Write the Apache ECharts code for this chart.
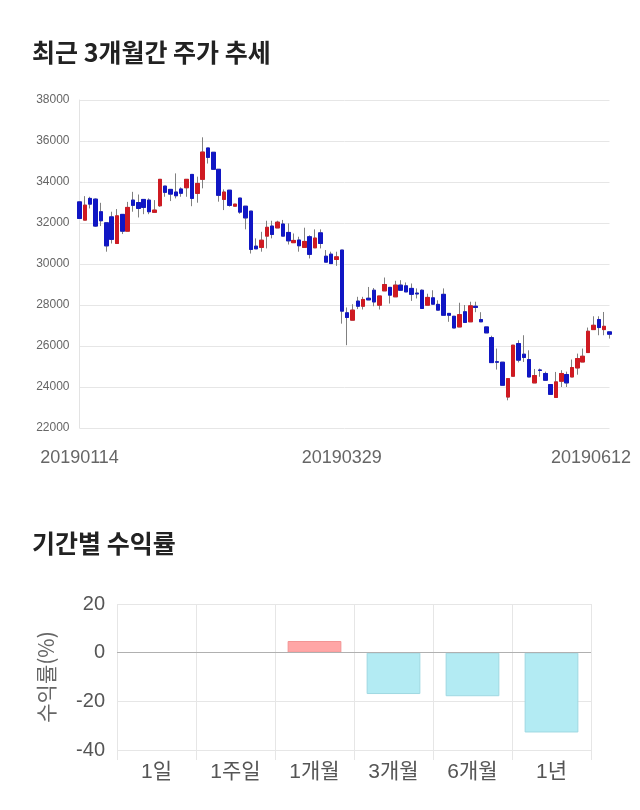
<!DOCTYPE html>
<html><head><meta charset="utf-8">
<script src="https://cdn.jsdelivr.net/npm/echarts@6/dist/echarts.min.js"></script>
<style>html,body{margin:0;padding:0;background:#fff}#c{width:640px;height:810px}</style>
</head><body><div id="c"></div>
<script>
const dates = [
'20190114','20190115','20190116','20190117','20190118','20190121','20190122','20190123','20190124','20190125',
'20190128','20190129','20190130','20190131','20190207','20190208','20190211','20190212','20190213','20190214',
'20190215','20190218','20190219','20190220','20190221','20190222','20190225','20190226','20190227','20190228',
'20190304','20190305','20190306','20190307','20190308','20190311','20190312','20190313','20190314','20190315',
'20190318','20190319','20190320','20190321','20190322','20190325','20190326','20190327','20190328','20190329',
'20190401','20190402','20190403','20190404','20190405','20190408','20190409','20190410','20190411','20190412',
'20190415','20190416','20190417','20190418','20190419','20190422','20190423','20190424','20190425','20190426',
'20190429','20190430','20190502','20190503','20190507','20190508','20190509','20190510','20190513','20190514',
'20190515','20190516','20190517','20190520','20190521','20190522','20190523','20190524','20190527','20190528',
'20190529','20190530','20190531','20190603','20190604','20190605','20190607','20190610','20190611','20190612'];
const opens = [
33030,32140,33200,33165,32550,32010,32300,31000,32420,31600,
33117,33000,33150,33117,32520,32840,33800,33640,33510,33660,
33720,34370,33445,34130,35660,35450,34620,33150,33600,32820,
33215,32820,32580,30870,30810,31360,31850,31760,31950,31540,
31040,31170,30810,31330,30790,31520,30380,30480,30220,30680,
27620,27260,28190,27940,28330,28720,27990,28690,28860,28400,
28970,28935,28810,28580,28720,27990,28350,28030,28520,27590,
27450,26930,27670,27180,27940,27290,26930,26410,25230,25210,
23510,24525,26120,25600,25340,24200,24830,24660,24120,23490,
24280,24610,24490,24930,25220,25680,26800,27290,26800,26690];
const closes = [
32220,32870,32920,31850,32110,30885,31200,32350,31600,32760,
32860,32710,32760,32550,32630,34130,33495,33410,33330,33450,
34130,33200,33930,35460,35200,34620,33350,33510,32860,32920,
32530,32250,30710,30740,31160,31790,31440,32040,31360,31130,
31150,30890,31100,30470,31265,31000,30090,30020,30350,27700,
27390,27750,27940,28270,28250,28150,28440,29000,28480,28970,
28720,28640,28520,28540,27830,28370,28040,27750,27500,27500,
26880,27530,27150,27960,27880,27180,26640,25190,25210,24085,
24410,26040,25310,25440,24490,24560,24810,24330,23640,24250,
24660,24200,24950,25390,25500,26720,27010,26900,26960,26575];
const lows = [
32200,32140,32710,31810,31850,30600,31000,31000,31460,31600,
32550,32270,32430,32430,32520,32790,33280,33070,33200,33280,
33280,32820,32990,33690,34900,34620,33040,32630,32800,32820,
32450,31690,30510,30740,30600,30760,31250,31760,31360,30950,
31040,30600,30810,30270,30790,30760,30090,30020,29910,27090,
26040,27260,27800,27780,28250,27940,27780,28690,28070,28400,
28720,28640,28200,28320,27830,27990,28040,27750,27500,27180,
26880,26930,27150,27180,27650,27180,26640,25190,24850,24085,
23350,24525,25200,25220,24490,24200,24500,24330,23640,23490,
24000,24000,24490,24600,25220,25680,26800,26525,26525,26360];
const highs = [
33050,33310,33280,33200,32985,32010,32550,32680,32420,33030,
33520,33390,33150,33200,33117,34130,33800,33640,34420,33740,
34130,34370,34260,36180,35660,35450,34620,33640,33600,32920,
33215,32820,32580,31250,31570,32110,32110,32110,32150,31980,
31490,31330,31770,31400,31690,31690,30680,30600,30600,30680,
27880,28040,28400,28400,28880,28830,28440,29340,28860,29180,
29210,29100,29050,28810,28760,28550,28720,28230,28810,27590,
27450,28110,28000,28160,28160,27650,26930,26500,25875,25210,
24410,26040,26280,26525,25790,24880,24900,24750,24120,24735,
24820,24750,25340,25630,25875,26900,27450,27450,27660,26690];
const periods = ['1일','1주일','1개월','3개월','6개월','1년'];
const returns = [0, 0, 4.8, -17.0, -17.9, -32.8];

const FONT = "'Liberation Sans','Noto Sans CJK KR',sans-serif";
const full = dates.map((d,i)=>[opens[i], closes[i], lows[i], highs[i]]);
const bodies = dates.map((d,i)=>[opens[i], closes[i], Math.min(opens[i],closes[i]), Math.max(opens[i],closes[i])]);
const last = dates.length - 1;
const mid = 49;

const chart = echarts.init(document.getElementById('c'), null, {renderer:'canvas'});
chart.setOption({
  animation: false,
  backgroundColor: '#fff',
  title: [
    {text:'최근 3개월간 주가 추세', left: 27, top: 35, textStyle:{fontFamily:"'Noto Sans CJK KR',sans-serif", fontSize:25, fontWeight:'bold', color:'#222'}},
    {text:'기간별 수익률', left: 27, top: 526, textStyle:{fontFamily:"'Noto Sans CJK KR',sans-serif", fontSize:25, fontWeight:'bold', color:'#222'}}
  ],
  grid: [
    {left: 79.5, right: 30.5, top: 100, bottom: 382},
    {left: 117, right: 49, top: 604, bottom: 60}
  ],
  xAxis: [
    {type:'category', gridIndex:0, data: dates, boundaryGap:false,
     axisLine:{show:false}, axisTick:{show:false}, splitLine:{show:false},
     axisLabel:{interval:(idx)=> idx===0 || idx===mid || idx===last, margin: 21,
       fontFamily: FONT, fontSize:18, color:'#666',
       formatter:(v, idx)=> idx===last ? '{r|'+v+'}' : v,
       rich:{r:{padding:[0,37,0,0], fontFamily: FONT, fontSize:18, color:'#666'}}}},
    {type:'category', gridIndex:1, data: periods, boundaryGap:true,
     axisLine:{show:false, onZero:false}, axisTick:{show:true, length:10, lineStyle:{color:'#e6e6e6'}},
     splitLine:{show:true, lineStyle:{color:'#e6e6e6'}},
     axisLabel:{margin: 12, fontFamily: FONT, fontSize:21, color:'#555'}}
  ],
  yAxis: [
    {type:'value', gridIndex:0, min:22000, max:38000, interval:2000,
     axisLine:{show:true, lineStyle:{color:'#e3e3e3'}}, axisTick:{show:false},
     splitLine:{lineStyle:{color:'#e6e6e6'}},
     axisLabel:{margin:10, fontFamily: FONT, fontSize:12, color:'#666', formatter:(v)=>String(v)}},
    {type:'value', gridIndex:1, min:-40, max:20, interval:20,
     axisLine:{show:false}, axisTick:{show:false},
     splitLine:{lineStyle:{color:'#e6e6e6'}},
     axisLabel:{margin:12, fontFamily: FONT, fontSize:20, color:'#555', formatter:(v)=>String(v)},
     name:'수익률(%)', nameLocation:'middle', nameGap:60, nameRotate:90,
     nameTextStyle:{fontFamily:"'Noto Sans CJK KR',sans-serif", fontSize:21, color:'#666'}}
  ],
  series: [
    {type:'candlestick', xAxisIndex:0, yAxisIndex:0, data: full, barWidth:4,
     itemStyle:{color:'rgba(0,0,0,0)', color0:'rgba(0,0,0,0)', borderColor:'#808080', borderColor0:'#808080', borderWidth:1}},
    {type:'candlestick', xAxisIndex:0, yAxisIndex:0, data: bodies, barWidth:4,
     itemStyle:{color:'#cf1a22', color0:'#1016c4', borderColor:'#cf1a22', borderColor0:'#1016c4', borderWidth:1}},
    {type:'bar', xAxisIndex:1, yAxisIndex:1, barWidth:'68%',
     data: returns.map(v=>({value:v, itemStyle: v>0 ? {color:'#ffa6a6', borderColor:'#f29393', borderWidth:1} : (v<0 ? {color:'#b3ebf3', borderColor:'#9fd8e2', borderWidth:1} : {color:'rgba(0,0,0,0)', borderWidth:0})})),
     markLine:{silent:true, symbol:'none', label:{show:false}, lineStyle:{color:'#b0b0b0', type:'solid', width:1}, data:[{yAxis:0}]}}
  ]
});
</script></body></html>
